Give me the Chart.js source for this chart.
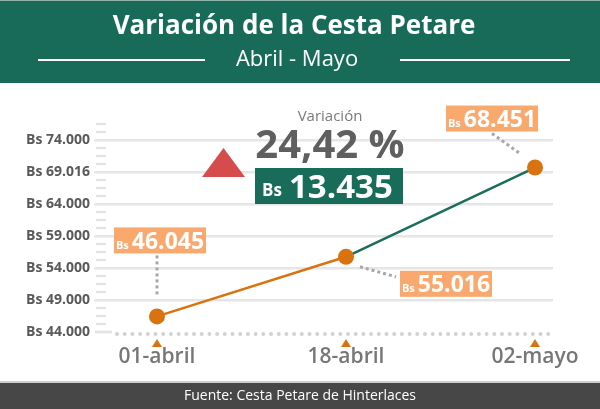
<!DOCTYPE html>
<html lang="es">
<head>
<meta charset="UTF-8">
<title>Variación de la Cesta Petare</title>
<script src="https://cdn.jsdelivr.net/npm/chart.js"></script>
<style>
  html, body { margin: 0; padding: 0; background: #fff; }
  #chart { display: block; }
</style>
</head>
<body>
<canvas id="chart" width="600" height="409"></canvas>
<script>
// datos
const fechas = ['01-abril', '18-abril', '02-mayo'];
const precios = [46045, 55016, 68451];
const ticksY = [44000, 49000, 54000, 59000, 64000, 69016, 74000];
const variacionPct = '24,42 %';
const variacionBs = 13435;

const VERDE = '#1a6c5a';
const NARANJA = '#d9730f';
const SALMON = '#f9a86e';
const FONT = "'Open Sans', sans-serif";

const fmt = n => String(n).replace(/\B(?=(\d{3})+(?!\d))/g, '.');

// posicion de las etiquetas respecto a cada punto
const cajas = [
    { dx: 3, dy: -76, l: [0, -61, 0, -19] },
    { dx: 100, dy: 27, l: [14, 10, 50, 20] },
    { dx: -43, dy: -49, l: [-43, -34, -15, -14] }
];

function etiqueta(ctx, cx, cy, valor, w, h, sBs, sVal) {
    ctx.fillStyle = SALMON;
    ctx.fillRect(cx - w / 2, cy - h / 2, w, h);
    ctx.font = 'bold ' + sBs + 'px ' + FONT;
    const wBs = ctx.measureText('Bs').width;
    ctx.font = 'bold ' + sVal + 'px ' + FONT;
    const wVal = ctx.measureText(valor).width;
    const x0 = cx - (wBs + 3 + wVal) / 2;
    ctx.fillStyle = '#fff';
    ctx.textAlign = 'left';
    ctx.textBaseline = 'alphabetic';
    ctx.font = 'bold ' + sBs + 'px ' + FONT;
    ctx.fillText('Bs', x0, cy + sVal * 0.36);
    ctx.font = 'bold ' + sVal + 'px ' + FONT;
    ctx.fillText(valor, x0 + wBs + 3, cy + sVal * 0.36);
}

const decoracion = {
    id: 'decoracion',
    beforeDraw(chart) {
        const ctx = chart.ctx;
        const W = chart.width, H = chart.height;
        const a = chart.chartArea;
        const y = chart.scales.y;
        ctx.save();
        ctx.fillStyle = '#fff';
        ctx.fillRect(0, 0, W, H);

        // cabecera
        ctx.fillStyle = '#186b59';
        ctx.fillRect(0, 0, W, 83);
        ctx.fillStyle = '#8fb3aa';
        ctx.fillRect(0, 0, W, 1);
        ctx.fillStyle = '#fff';
        ctx.textAlign = 'center';
        ctx.textBaseline = 'middle';
        ctx.font = 'bold 26px ' + FONT;
        ctx.fillText('Variación de la Cesta Petare', 294, 27);
        ctx.font = '22px ' + FONT;
        ctx.fillText('Abril - Mayo', 297, 60);
        ctx.fillRect(38, 59, 167, 2);
        ctx.fillRect(400, 59, 170, 2);

        // pie
        ctx.fillStyle = '#d0d0d0';
        ctx.fillRect(0, 381, W, 2);
        ctx.fillStyle = '#474747';
        ctx.fillRect(0, 383, W, H - 383);
        ctx.fillStyle = '#fff';
        ctx.font = '14px ' + FONT;
        ctx.fillText('Fuente: Cesta Petare de Hinterlaces', 300, 396);

        // marcas menores del eje y
        ctx.strokeStyle = '#e2e2e2';
        ctx.lineWidth = 2;
        for (let v = y.min + 1250; v <= y.max; v += 1250) {
            if ((v - y.min) % 5000 === 0) continue;
            const py = Math.round(y.getPixelForValue(v));
            ctx.beginPath();
            ctx.moveTo(a.left + 2, py);
            ctx.lineTo(a.left + 12, py);
            ctx.stroke();
        }
        const pb = y.getPixelForValue(y.min);
        ctx.strokeStyle = '#e4e4e4';
        ctx.lineWidth = 3;
        ctx.beginPath();
        ctx.moveTo(a.left + 1, pb);
        ctx.lineTo(a.left + 18, pb);
        ctx.stroke();

        // eje x punteado
        ctx.fillStyle = '#d2d2d2';
        for (let px = a.left + 23; px <= a.right; px += 7.7) {
            ctx.beginPath();
            ctx.arc(px, pb + 2, 2, 0, Math.PI * 2);
            ctx.fill();
        }

        // triangulos bajo las fechas
        ctx.fillStyle = NARANJA;
        chart.scales.x.ticks.forEach(t => {
            const px = chart.scales.x.getPixelForValue(t.value);
            ctx.beginPath();
            ctx.moveTo(px - 5, pb + 15);
            ctx.lineTo(px + 5, pb + 15);
            ctx.lineTo(px, pb + 7);
            ctx.closePath();
            ctx.fill();
        });
        ctx.restore();
    },
    beforeDatasetsDraw(chart) {
        const ctx = chart.ctx;
        const pts = chart.getDatasetMeta(0).data;
        ctx.save();
        ctx.strokeStyle = '#a8a8a8';
        ctx.lineWidth = 3;
        ctx.setLineDash([3, 3]);
        pts.forEach((p, i) => {
            const l = cajas[i].l;
            ctx.beginPath();
            ctx.moveTo(p.x + l[0], p.y + l[1]);
            ctx.lineTo(p.x + l[2], p.y + l[3]);
            ctx.stroke();
        });
        ctx.restore();
    },
    afterDraw(chart) {
        const ctx = chart.ctx;
        const pts = chart.getDatasetMeta(0).data;
        ctx.save();
        pts.forEach((p, i) => {
            etiqueta(ctx, p.x + cajas[i].dx, p.y + cajas[i].dy, fmt(precios[i]), 92, 26, 11, 23);
        });

        // bloque central de variacion
        ctx.textAlign = 'center';
        ctx.textBaseline = 'alphabetic';
        ctx.fillStyle = '#7a7a7a';
        ctx.font = '15px ' + FONT;
        ctx.fillText('Variación', 330, 121);
        ctx.fillStyle = '#5f5f5f';
        ctx.font = 'bold 40px ' + FONT;
        ctx.fillText(variacionPct, 330, 158);

        ctx.fillStyle = VERDE;
        ctx.fillRect(255, 168, 148, 36);
        ctx.fillStyle = '#fff';
        ctx.textAlign = 'left';
        ctx.font = 'bold 17px ' + FONT;
        ctx.fillText('Bs', 262, 196);
        ctx.font = 'bold 33px ' + FONT;
        ctx.fillText(fmt(variacionBs), 289, 198);

        ctx.fillStyle = '#d64c4c';
        ctx.beginPath();
        ctx.moveTo(202, 177);
        ctx.lineTo(245, 177);
        ctx.lineTo(223.5, 148);
        ctx.closePath();
        ctx.fill();
        ctx.restore();
    }
};

new Chart(document.getElementById('chart'), {
    type: 'line',
    data: {
        datasets: [{
            data: precios.map((v, i) => ({ x: i, y: v })),
            yAxisID: 'y2',
            borderWidth: 2.5,
            borderColor: NARANJA,
            segment: {
                borderColor: c => c.p1DataIndex === 2 ? '#1b6e5b' : NARANJA
            },
            pointRadius: 8,
            pointHoverRadius: 8,
            pointBackgroundColor: NARANJA,
            pointBorderWidth: 0,
            tension: 0,
            clip: false
        }]
    },
    options: {
        responsive: false,
        animation: false,
        layout: { padding: { left: 0, right: 47, top: 124, bottom: 0 } },
        plugins: {
            legend: { display: false },
            tooltip: { enabled: false }
        },
        scales: {
            x: {
                type: 'linear',
                min: -0.3333,
                max: 2.0952,
                afterBuildTicks: s => { s.ticks = fechas.map((f, i) => ({ value: i })); },
                afterFit: s => { s.height = 77; },
                grid: { display: false, drawTicks: false },
                border: { display: false },
                ticks: {
                    padding: 12,
                    color: '#777',
                    font: { family: FONT, size: 21, weight: '600' },
                    callback: v => fechas[v]
                }
            },
            y: {
                min: 44000,
                max: 76500,
                afterBuildTicks: s => { s.ticks = ticksY.map(v => ({ value: v })); },
                afterFit: s => { s.width = 94; },
                border: { display: false },
                grid: {
                    drawTicks: false,
                    lineWidth: 2.5,
                    color: c => c.tick && c.tick.value === 44000 ? 'rgba(0,0,0,0)' : '#e6e6e6'
                },
                ticks: {
                    padding: 4,
                    color: '#595959',
                    font: { family: FONT, size: 14, weight: 'bold' },
                    callback: v => 'Bs ' + fmt(v)
                }
            },
            y2: {
                display: false,
                min: 43700,
                max: 75000
            }
        }
    },
    plugins: [decoracion]
});
</script>
</body>
</html>
